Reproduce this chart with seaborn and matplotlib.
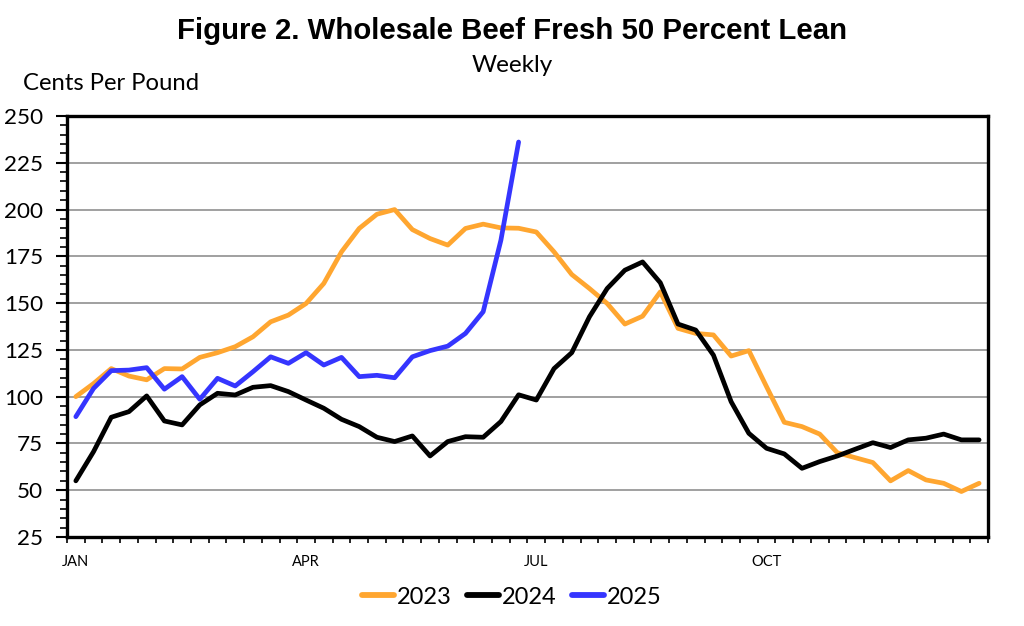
import numpy as np
import pandas as pd
import matplotlib
matplotlib.use("Agg")
import matplotlib.pyplot as plt
from matplotlib.ticker import MultipleLocator, FixedLocator
import seaborn as sns

# weekly prices, cents per pound (week 1 = index 0)
y2023 = [100, 107, 115, 111, 109, 115, 114.8, 121, 123.5, 126.7, 132, 140, 143.6,
         149.8, 160.5, 177.4, 189.9, 197.5, 200, 189.3, 184.5, 181, 189.9, 192.2,
         190.2, 190, 188, 177.4, 165.3, 157.8, 149.8, 138.8, 143, 156, 136.5, 133.8,
         133, 121.7, 124.6, 105.3, 86.3, 84, 80, 70, 67.4, 64.8, 55, 60.5, 55.5,
         53.7, 49.3, 53.7]
y2024 = [55, 70.6, 89, 92, 100.4, 87, 84.9, 95.6, 101.8, 100.9, 105, 105.9, 102.7,
         98.2, 93.8, 87.9, 84, 78.3, 76, 79, 68.3, 76, 78.6, 78.3, 86.7, 101, 98.2,
         115, 123.5, 142.7, 157.8, 167.6, 172, 160.9, 138.8, 135.6, 122.2, 97.3,
         80.4, 72.4, 69.4, 61.7, 65.3, 68.3, 71.9, 75.4, 72.8, 76.9, 77.8, 80,
         76.9, 76.9]
y2025 = [89.3, 104.4, 113.9, 114.2, 115.5, 104, 110.7, 98.6, 109.8, 105.7, 113.3,
         121.3, 117.8, 123.5, 116.9, 121, 110.7, 111.4, 110.1, 121.3, 124.6, 127,
         133.8, 145.4, 183.6, 236.1]
years = ["2023", "2024", "2025"]
month_labels = ["JAN", "APR", "JUL", "OCT"]
month_weeks = [0, 13, 26, 39]
colors = ["#FFA630", "#000000", "#3535FF"]

frames = []
for yr, vals in zip(years, [y2023, y2024, y2025]):
    frames.append(pd.DataFrame({"week": np.arange(len(vals)), "price": vals, "year": yr}))
df = pd.concat(frames, ignore_index=True)

sns.set_style("white")
plt.rcParams["font.family"] = ["Lato", "DejaVu Sans"]
plt.rcParams["text.color"] = "black"
plt.rcParams["xtick.color"] = "black"
plt.rcParams["ytick.color"] = "black"
plt.rcParams["xtick.labelcolor"] = "black"
plt.rcParams["ytick.labelcolor"] = "black"

fig = plt.figure(figsize=(10.24, 6.26), dpi=100)
ax = fig.add_axes([0.0654, 0.1422, 0.8994, 0.6725])

sns.lineplot(data=df, x="week", y="price", hue="year", palette=colors,
             linewidth=3.4, ax=ax, legend=False, sort=False, errorbar=None, zorder=3)

ax.set_xlim(-0.5, 51.5)
ax.set_ylim(25, 250)
ax.yaxis.set_major_locator(MultipleLocator(25))
ax.yaxis.set_minor_locator(MultipleLocator(5))
ax.xaxis.set_major_locator(FixedLocator(month_weeks))
ax.xaxis.set_minor_locator(FixedLocator(np.arange(-0.5, 52, 1)))
ax.set_xticklabels(month_labels)
ax.set_xlabel("")
ax.set_ylabel("")

ax.grid(axis="y", which="major", color="#A0A0A0", linewidth=1.4, zorder=0)
ax.grid(axis="x", visible=False)
for s in ax.spines.values():
    s.set_color("black")
    s.set_linewidth(2.4)

ax.tick_params(axis="y", which="major", direction="out", length=8, width=1.5,
               labelsize=16.2, pad=9, colors="black")
ax.tick_params(axis="y", which="minor", direction="out", length=5, width=1.2, colors="black")
ax.tick_params(axis="x", which="major", length=0, labelsize=10.5, pad=13, colors="black")
ax.tick_params(axis="x", which="minor", direction="out", length=4, width=1.2, colors="black")
ax.tick_params(left=True, bottom=True, which="both")

fig.text(0.5, 0.951, "Figure 2. Wholesale Beef Fresh 50 Percent Lean", ha="center",
         va="center", fontsize=21.2, fontweight="bold", color="black",
         family=["Liberation Sans", "DejaVu Sans"])
fig.text(0.5, 0.896, "Weekly", ha="center", va="center", fontsize=17.5, color="black")
fig.text(0.022, 0.866, "Cents Per Pound", ha="left", va="center", fontsize=17.2, color="black")

handles = [plt.Line2D([], [], color=c, linewidth=4.2, solid_capstyle="round") for c in colors]
leg = fig.legend(handles, years, loc="center", bbox_to_anchor=(0.5, 0.046), ncol=3,
                 frameon=False, fontsize=17, handlelength=1.35, handletextpad=0.12,
                 columnspacing=0.65)
for t in leg.get_texts():
    t.set_color("black")

fig.savefig("out.png", dpi=100)
